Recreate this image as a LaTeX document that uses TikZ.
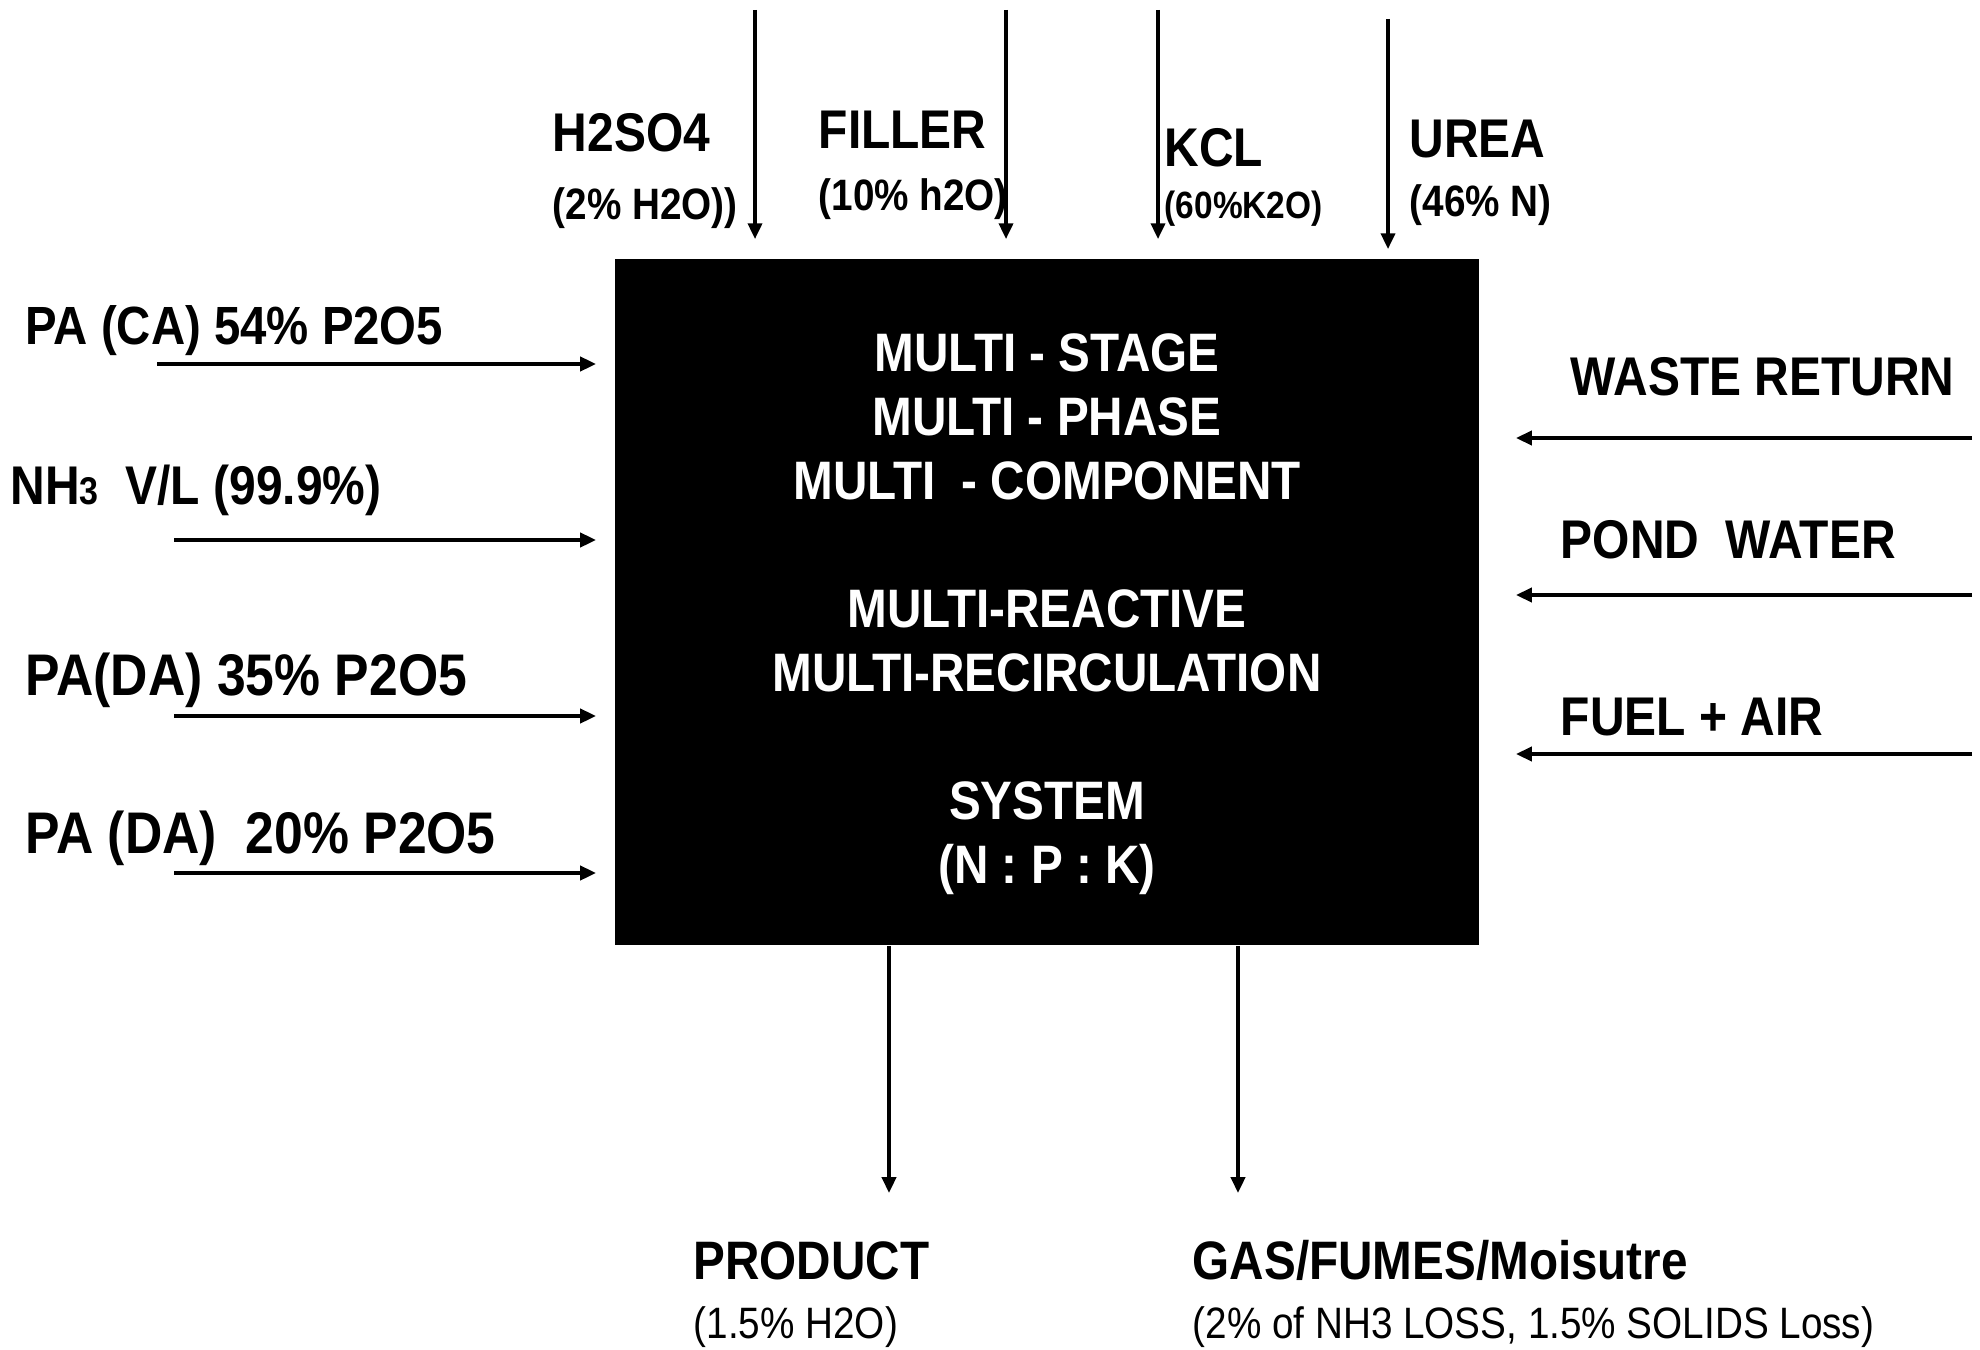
\documentclass[tikz,border=0pt]{standalone}
\usepackage{fontspec}
\newfontfamily\narrowsf[FakeStretch=0.88]{Liberation Sans}
\usepackage{tikz}
\usetikzlibrary{positioning, arrows.meta, calc}

\tikzset{
  flow/.style={->, line width=1pt},
  biglab/.style={inner sep=0pt, anchor=base west, font=\narrowsf\bfseries\fontsize{15.5}{18}\selectfont},
  palab/.style={inner sep=0pt, anchor=base west, font=\narrowsf\bfseries\fontsize{16.7}{19}\selectfont},
  outlab/.style={inner sep=0pt, anchor=base west, font=\narrowsf\bfseries\fontsize{15.4}{18}\selectfont},
  sublab/.style={inner sep=0pt, anchor=base west, font=\narrowsf\bfseries\fontsize{12.5}{15}\selectfont},
  plainlab/.style={inner sep=0pt, anchor=base west, font=\narrowsf\fontsize{12.5}{15}\selectfont},
}

\begin{document}
\begin{tikzpicture}[x=0.01cm, y=-0.01cm, >={Triangle[length=4.5pt,width=4pt]}]
    \useasboundingbox (0,0) rectangle (1980,1349);
    % Central process block
    \node[fill=black, minimum width=8.64cm, minimum height=6.86cm, inner sep=0pt] (npk) at (1047,602) {};
    \node[text=white, align=center, inner sep=0pt, yshift=-0.12cm,
          font=\narrowsf\bfseries\fontsize{15.4}{18.2}\selectfont]
        (npktext) at (npk.center) {MULTI - STAGE\\ MULTI - PHASE\\ MULTI\ \ - COMPONENT\\[18.2pt]
        MULTI-REACTIVE\\ MULTI-RECIRCULATION\\[18.2pt] SYSTEM\\ (N : P : K)};
    % Feeds from the top
    \coordinate (h2so4) at (755,10);
    \coordinate (filler) at (1006,10);
    \coordinate (kcl) at (1158,10);
    \coordinate (urea) at (1388,19);
    \draw[flow, shorten >=0.19cm] (h2so4) -- (h2so4 |- npk.north);
    \draw[flow, shorten >=0.19cm] (filler) -- (filler |- npk.north);
    \draw[flow, shorten >=0.19cm] (kcl) -- (kcl |- npk.north);
    \draw[flow, shorten >=0.09cm] (urea) -- (urea |- npk.north);
    \node[biglab] (h2so4lab) at (552,152) {H2SO4};
    \node[sublab] (h2so4sub) at (552,220) {(2\% H2O))};
    \node[biglab] (fillerlab) at (818,149) {FILLER};
    \node[sublab] (fillersub) at (818,211) {(10\% h2O)};
    \node[biglab] (kcllab) at (1164,167) {KCL};
    \node[sublab, font=\narrowsf\bfseries\fontsize{10.8}{13}\selectfont] (kclsub) at (1164,219) {(60\%K2O)};
    \node[biglab] (urealab) at (1409,158) {UREA};
    \node[sublab] (ureasub) at (1409,217) {(46\% N)};
    % Feeds from the left
    \coordinate (paca) at (157,364);
    \coordinate (nh3) at (174,540);
    \coordinate (pada) at (174,716);
    \coordinate (padb) at (174,873);
    \foreach \c in {paca, nh3, pada, padb}
        \draw[flow, shorten >=0.18cm] (\c) -- (\c -| npk.west);
    \node[palab, font=\narrowsf\bfseries\fontsize{15.3}{18}\selectfont] (pacalab) at (25,344) {PA (CA) 54\% P2O5};
    \node[biglab] (nh3lab) at (10,504) {NH{\fontsize{11}{11}\selectfont 3}\ \ V/L (99.9\%)};
    \node[palab] (padalab) at (25,695) {PA(DA)\ 35\% P2O5};
    \node[palab] (padblab) at (25,853) {PA (DA)\ \ 20\% P2O5};
    % Returns from the right
    \coordinate (waste) at (1972,438);
    \coordinate (pond) at (1972,595);
    \coordinate (fuel) at (1972,754);
    \foreach \c in {waste, pond, fuel}
        \draw[flow, shorten >=0.36cm] (\c) -- (\c -| npk.east);
    \node[biglab] (wastelab) at (1570,396) {WASTE RETURN};
    \node[biglab] (pondlab) at (1560,558) {POND\ \ WATER};
    \node[biglab] (fuellab) at (1560,735) {FUEL + AIR};
    % Outlets at the bottom
    \coordinate (prod) at (889,1193);
    \coordinate (gas) at (1238,1193);
    \draw[flow] (npk.south -| prod) -- (prod);
    \draw[flow] (npk.south -| gas) -- (gas);
    \node[outlab] (prodlab) at (693,1279) {PRODUCT};
    \node[plainlab] (prodsub) at (693,1338) {(1.5\% H2O)};
    \node[outlab] (gaslab) at (1192,1279) {GAS/FUMES/Moisutre};
    \node[plainlab] (gassub) at (1192,1338) {(2\% of NH3 LOSS, 1.5\% SOLIDS Loss)};
\end{tikzpicture}
\end{document}
